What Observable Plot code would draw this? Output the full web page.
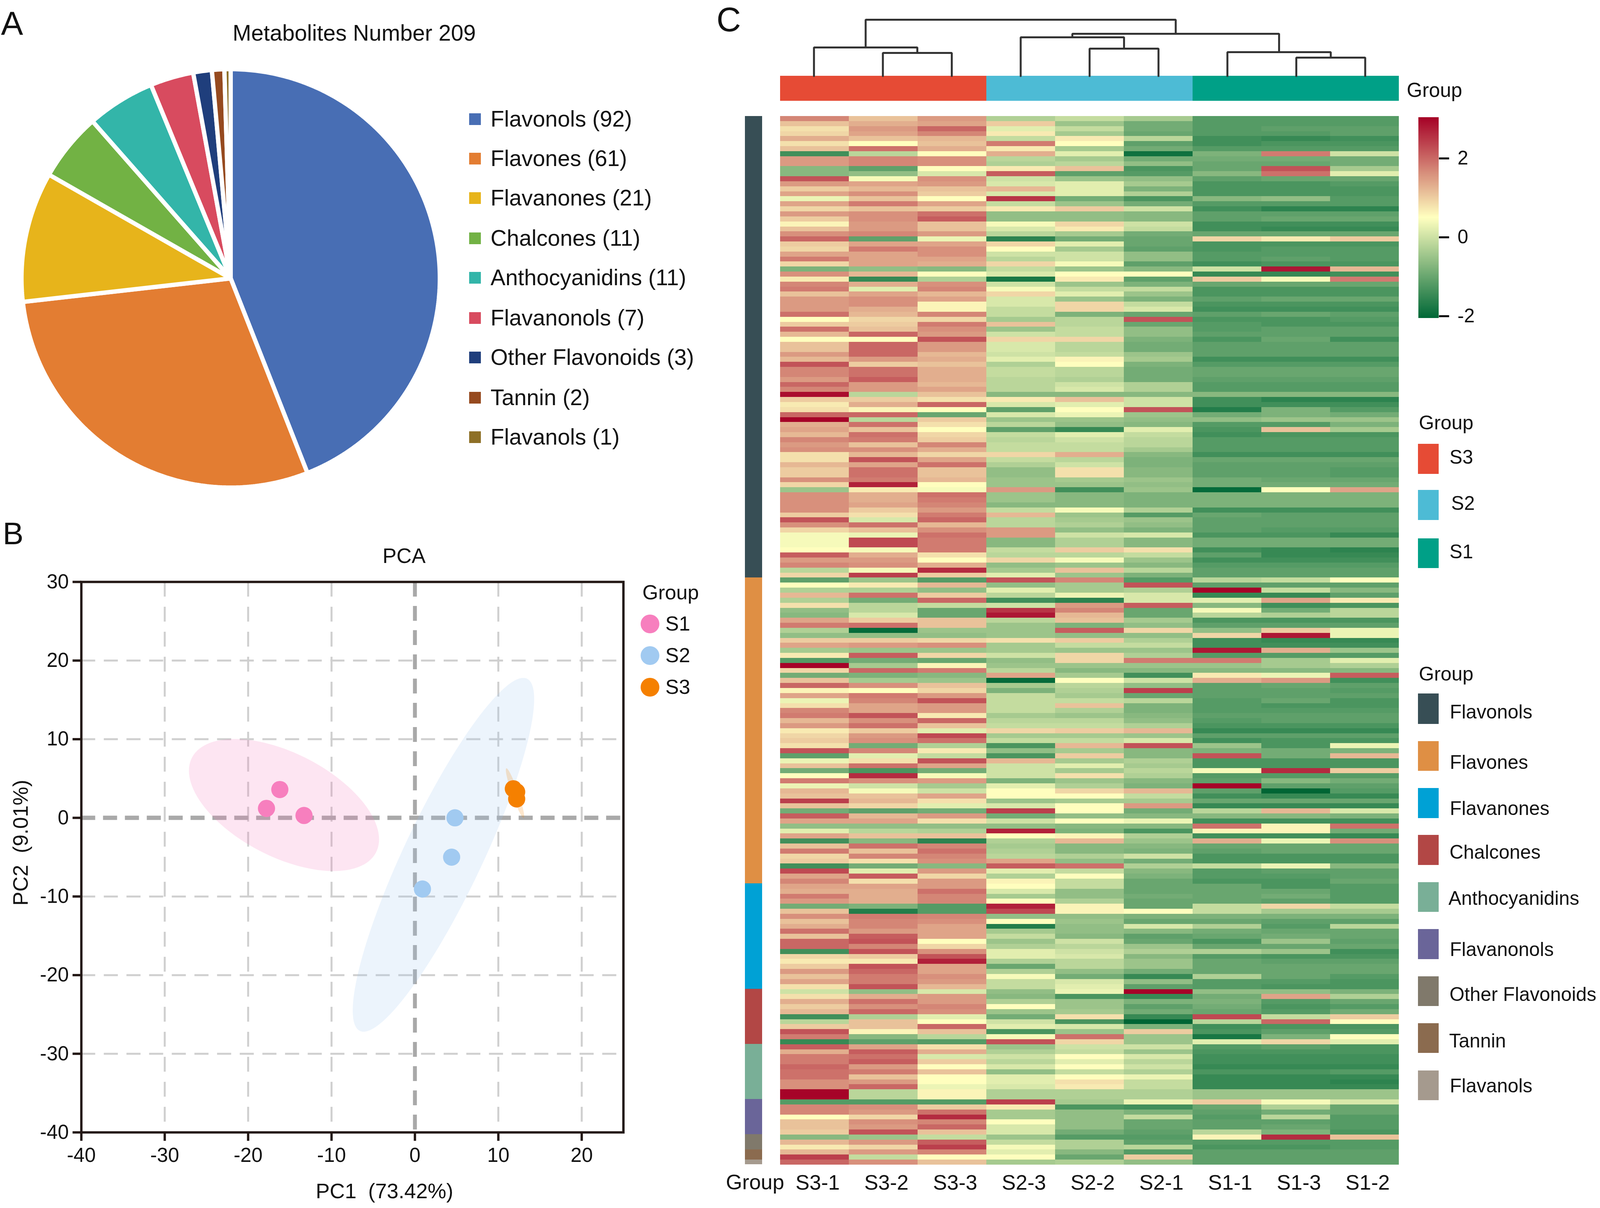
<!DOCTYPE html>
<html>
<head>
<meta charset="utf-8">
<script src="https://cdn.jsdelivr.net/npm/d3@7"></script>
<script src="https://cdn.jsdelivr.net/npm/@observablehq/plot@0.6"></script>
<style>
html,body{margin:0;padding:0;background:#fff;overflow:hidden}
#page{position:relative;width:100vw;height:3092px;font-family:"Liberation Sans",Arial,sans-serif;color:#111;background:#fff}
#page svg{position:absolute;max-width:none;background:transparent}
.t{position:absolute;white-space:pre;line-height:1}
.s{position:absolute}
</style>
</head>
<body>
<div id="page"></div>
<script>
// ---------- Panel A: composition ----------
const classNames = ["Flavonols","Flavones","Flavanones","Chalcones","Anthocyanidins","Flavanonols","Other Flavonoids","Tannin","Flavanols"];
const classCounts = [92,61,21,11,11,7,3,2,1];
const pieColors = ["#486EB4","#E37D32","#E7B41B","#72B244","#33B5A9","#D84B5F","#1F3E7C","#964A1F","#8E7027"];

// ---------- Panel B: PCA ----------
const pcaGroups = ["S1","S2","S3"];
const pcaColors = ["#F77FBE","#A1CAF1","#F58000"];
const pcaS1 = [[-16.2,3.6],[-17.8,1.2],[-13.3,0.3]];
const pcaS2 = [[4.8,0.0],[4.4,-5.0],[0.9,-9.05]];
const pcaS3 = [[11.8,3.7],[12.2,3.3],[12.2,2.4]];
// ellipse: centre x, centre y, half width, half height, tilt correlation
const ellipseS1 = [-15.7,1.63,11.4,8.4,-0.52];
const ellipseS2 = [3.42,-4.7,10.88,22.5,0.88];
const ellipseS3 = [12.0,3.15,1.1,3.15,-0.93];
const pcaXTicks = [-40,-30,-20,-10,0,10,20];
const pcaYTicks = [-40,-30,-20,-10,0,10,20,30];

// ---------- Panel C: heatmap (z-scores) ----------
const samples = ["S3-1","S3-2","S3-3","S2-3","S2-2","S2-1","S1-1","S1-3","S1-2"];
const sampleGroupNames = ["S3","S2","S1"];
const sampleGroupColors = ["#E64B35","#4DBBD5","#00A087"];
const classColors = ["#374E55","#DF8F44","#00A1D5","#B24745","#79AF97","#6A6599","#80796B","#8B6B4F","#A59A8E"];

const rowsFlavonols = [
[1.7,1.1,1.5,-0.3,-0.1,-0.4,-1.2,-1.2,-1.2],
[1.1,1.3,1.4,1.0,-0.5,-0.9,-1.2,-1.2,-1.2],
[0.8,1.5,2.0,0.2,-0.1,-0.9,-1.2,-1.1,-1.1],
[0.9,1.4,1.7,0.7,-0.4,-1.0,-1.2,-1.2,-1.1],
[1.3,1.1,1.2,-0.1,0.7,-0.2,-1.4,-1.5,-1.4],
[0.8,0.5,1.1,1.8,0.5,-1.1,-1.4,-1.3,-1.3],
[1.1,1.9,1.3,0.7,-0.4,-0.9,-1.2,-1.2,-1.2],
[-1.4,-0.2,0.5,1.3,0.2,-1.9,-0.8,1.8,0.0],
[1.5,1.7,1.6,-0.2,-0.4,-0.9,-0.9,-0.9,-0.9],
[1.5,1.7,1.6,-0.3,-0.2,-0.6,-1.0,-1.0,-0.9],
[-0.7,-1.1,0.5,0.7,1.1,-1.3,-1.0,2.2,-0.4],
[-0.7,-0.6,0.1,2.1,-1.1,-1.2,-0.7,1.9,0.2],
[2.2,0.4,1.6,0.0,-0.5,-0.6,-1.1,-1.0,-1.0],
[1.5,1.4,1.5,0.1,0.2,-0.4,-1.3,-1.3,-1.2],
[1.0,1.2,1.1,1.2,0.2,-0.8,-1.3,-1.3,-1.3],
[1.4,1.6,1.0,0.1,0.2,-0.3,-1.3,-1.3,-1.3],
[0.3,1.1,0.5,2.5,-0.9,-1.3,-0.7,-0.6,-1.2],
[1.4,1.8,1.4,-0.1,-0.5,-0.9,-1.2,-1.2,-1.2],
[0.9,1.1,1.0,0.7,1.0,0.0,-1.4,-1.6,-1.6],
[1.5,1.6,1.9,-0.6,-0.6,-0.7,-1.1,-1.1,-1.1],
[1.0,1.6,2.1,-0.6,-0.6,-0.7,-1.1,-1.0,-1.0],
[0.6,1.5,1.1,0.4,0.9,0.0,-1.4,-1.4,-1.4],
[1.1,1.5,1.1,0.1,0.7,-0.1,-1.4,-1.5,-1.5],
[1.6,1.7,1.5,-0.2,-0.4,-0.9,-1.0,-1.0,-1.0],
[2.0,-1.1,0.3,-1.6,-0.9,-1.0,0.9,0.7,1.0],
[1.0,1.4,1.4,0.9,0.2,-1.0,-1.3,-1.3,-1.3],
[0.9,1.8,1.6,0.5,-0.4,-1.1,-1.3,-1.2,-1.2],
[1.4,1.4,1.6,0.0,0.0,-0.6,-1.2,-1.2,-1.2],
[1.8,1.4,1.4,-0.2,0.0,-0.6,-1.2,-1.1,-1.2],
[0.9,1.4,1.3,0.9,0.4,-1.1,-1.4,-1.3,-1.3],
[-0.8,-0.6,-0.7,-0.1,-0.5,-0.7,0.0,2.8,1.2],
[1.6,1.2,0.5,0.1,0.5,0.5,-1.5,-1.5,-1.4],
[0.7,-1.5,-0.3,-1.8,0.7,-1.1,1.0,0.4,1.8],
[1.7,1.3,1.6,0.0,-0.5,-0.8,-1.0,-1.0,-1.0],
[1.8,0.2,1.7,0.4,-0.1,-0.1,-1.3,-1.3,-1.3],
[1.1,1.4,1.2,0.9,0.2,-0.5,-1.3,-1.3,-1.3],
[1.5,1.6,1.4,0.1,-0.5,-0.8,-1.1,-1.0,-1.0],
[1.5,1.6,0.6,0.1,0.9,-0.1,-1.3,-1.3,-1.3],
[1.5,1.3,0.6,-0.1,0.9,0.1,-1.4,-1.4,-1.4],
[1.9,1.2,1.7,-0.1,-0.8,-1.0,-1.1,-1.0,-1.1],
[0.5,0.9,0.9,-0.4,-0.2,2.2,-1.3,-1.3,-1.2],
[1.0,1.0,1.8,1.1,-0.2,-1.0,-1.2,-1.3,-1.3],
[1.9,1.1,1.6,-0.5,-0.1,-0.6,-1.2,-1.1,-1.1],
[1.2,2.0,1.5,0.0,-0.1,-0.6,-1.1,-1.1,-1.1],
[0.5,0.5,2.2,0.9,0.9,-0.8,-1.3,-1.0,-1.4],
[1.1,2.0,1.5,0.1,-0.2,-0.9,-1.1,-1.1,-1.1],
[1.1,2.0,1.5,0.1,-0.2,-0.9,-1.1,-1.1,-1.1],
[1.5,2.0,1.2,0.0,-0.1,-0.5,-1.1,-1.1,-1.1],
[1.2,1.5,1.3,0.2,0.6,-0.4,-1.4,-1.4,-1.4],
[2.2,1.0,1.1,-0.3,0.5,-0.8,-1.2,-1.2,-1.2],
[1.7,1.9,1.3,-0.1,-0.2,-0.9,-1.0,-1.0,-1.0],
[1.7,1.9,1.3,-0.1,-0.2,-0.9,-1.0,-1.0,-1.0],
[1.5,2.1,1.3,-0.2,-0.3,-0.9,-1.1,-1.1,-1.1],
[2.0,1.5,1.2,-0.2,0.0,-0.3,-1.2,-1.2,-1.2],
[1.7,1.5,1.4,-0.2,0.1,-0.3,-1.2,-1.2,-1.2],
[2.9,-0.2,1.1,-0.7,-0.7,-0.7,-0.7,-0.7,-0.7],
[1.0,1.0,0.8,0.7,1.1,0.0,-1.4,-1.6,-1.6],
[0.7,1.3,2.0,0.1,0.2,0.0,-1.4,-1.4,-1.4],
[0.8,0.6,0.5,-1.1,0.5,2.2,-1.7,-0.8,-1.2],
[2.0,2.0,-1.0,0.1,0.3,-0.5,-0.9,-0.8,-0.9],
[3.0,-0.2,1.0,-0.5,-0.5,-0.6,-0.6,-0.5,-0.5],
[1.3,1.9,0.8,-0.2,-0.6,-0.7,-1.2,-1.2,-0.8],
[1.4,1.1,0.5,-1.1,-1.5,0.2,-1.3,1.1,-0.4],
[1.2,1.9,0.9,-0.1,0.2,-0.1,-1.4,-1.3,-1.3],
[1.7,1.8,1.0,-0.2,0.0,-0.2,-1.2,-1.2,-1.2],
[1.5,1.1,1.7,-0.1,-0.1,-0.2,-1.2,-1.2,-1.2],
[1.6,1.6,1.3,-0.1,-0.1,-0.4,-1.2,-1.2,-1.2],
[0.8,1.2,0.9,0.9,1.3,-0.7,-1.4,-1.4,-1.4],
[0.8,2.2,1.4,-0.1,-0.2,-0.8,-1.0,-1.0,-1.0],
[1.2,1.4,1.9,-0.3,0.0,-0.8,-1.1,-1.1,-1.1],
[1.0,1.9,1.1,-0.6,0.8,-0.7,-1.1,-1.1,-1.2],
[1.0,1.9,1.1,-0.6,0.8,-0.7,-1.1,-1.1,-1.2],
[1.6,1.8,1.2,-0.5,-0.4,-0.5,-0.9,-1.0,-1.0],
[0.9,2.7,0.5,-0.5,-0.5,-0.6,-0.9,-0.9,-0.9],
[-0.5,0.7,0.4,1.5,-1.4,-0.5,-2.0,0.5,1.4],
[1.6,1.3,1.9,-0.5,-0.7,-0.8,-0.8,-0.8,-0.8],
[1.6,1.3,1.8,-0.5,-0.7,-0.8,-0.8,-0.8,-0.8],
[1.6,1.4,1.7,-0.7,-0.7,-0.8,-0.8,-0.8,-0.8],
[1.6,1.0,1.5,-0.1,0.4,-0.3,-1.4,-1.4,-1.4],
[1.0,0.8,1.8,1.2,-0.5,-1.2,-1.0,-1.1,-1.1],
[2.2,0.1,2.0,-0.2,-0.4,-0.5,-1.1,-1.1,-1.1],
[1.6,1.9,1.2,-0.2,-0.3,-0.6,-1.1,-1.1,-1.1],
[0.9,1.1,1.6,1.5,-0.6,-0.8,-1.1,-1.2,-1.2],
[0.4,0.3,1.9,1.5,0.0,0.1,-1.3,-1.3,-1.5],
[0.4,2.3,1.8,-0.7,-0.3,-0.7,-0.9,-0.9,-0.9],
[0.4,2.3,1.8,-0.7,-0.3,-0.7,-0.9,-0.9,-0.9],
[0.5,0.4,1.8,-0.1,1.0,0.8,-1.4,-1.5,-1.6],
[2.1,1.3,0.8,-0.2,-0.2,-0.1,-1.1,-1.5,-1.5],
[1.5,1.5,0.5,0.9,0.4,-0.5,-1.4,-1.4,-1.4],
[1.7,1.6,1.3,-0.6,-0.5,-0.7,-1.2,-1.2,-1.2],
[-0.2,0.4,2.6,-0.4,1.1,-0.2,-1.1,-1.1,-1.1],
[0.9,2.4,1.0,0.2,-0.5,-0.8,-1.1,-1.1,-1.1]];

const rowsFlavones = [
[-1.1,-0.5,-1.2,2.2,1.7,-1.2,-0.2,-0.1,0.5],
[0.5,0.7,1.2,-0.6,-0.4,2.2,-1.1,-1.1,-1.1],
[-0.3,-0.3,-0.6,0.2,-0.4,-0.3,3.0,-0.1,-0.7],
[1.2,1.9,1.0,-0.2,0.3,0.1,-1.5,-1.5,-1.1],
[-0.3,-0.9,2.0,-1.4,-1.6,0.1,0.2,1.4,0.7],
[0.8,-0.2,-0.1,0.0,1.5,2.1,-0.7,-1.4,-1.3],
[-0.6,-0.2,-1.0,2.5,1.7,-1.0,0.4,-0.9,-0.2],
[-0.7,0.1,-1.0,2.8,1.2,-1.0,-0.2,-0.3,-0.2],
[1.4,1.0,1.1,-0.2,1.1,-0.4,-1.3,-1.3,-1.3],
[1.8,1.9,1.1,-0.5,-0.8,-0.6,-1.1,-1.1,-1.1],
[-0.3,-2.0,-0.5,-0.5,2.1,0.9,-0.6,1.0,0.3],
[-0.6,-0.6,-0.6,-0.5,-0.6,-0.6,0.9,2.8,0.3],
[1.0,1.0,0.9,0.8,1.0,-0.3,-1.4,-1.5,-1.5],
[1.4,1.5,1.6,-0.4,-0.1,-0.1,-1.4,-1.4,-1.4],
[-0.4,-0.5,-0.5,-0.4,-0.5,-0.5,2.8,1.3,-0.5],
[0.7,2.1,0.9,0.0,0.9,-0.3,-1.2,-1.2,-1.2],
[-1.2,-0.9,-1.0,-0.6,0.9,1.8,1.8,-0.4,0.2],
[3.0,-0.4,0.6,-0.5,-0.5,-0.5,-0.5,-0.4,-0.3],
[0.9,2.0,1.8,-0.2,-0.7,-0.7,-0.7,-0.7,-0.7],
[-0.9,-0.8,-0.7,1.4,-0.4,-1.4,0.7,0.3,2.1],
[1.1,-0.4,-0.5,-2.0,0.5,0.0,1.3,1.5,-1.4],
[2.0,1.6,1.1,-0.4,-0.2,-0.6,-1.1,-1.0,-1.1],
[0.6,0.5,0.9,-0.8,-0.3,2.4,-1.1,-1.1,-1.2],
[1.4,1.8,1.5,-0.1,-0.4,-1.0,-1.1,-1.1,-1.1],
[0.3,1.7,2.2,-0.1,-0.1,-0.2,-1.2,-1.0,-1.3],
[0.8,1.4,1.5,-0.1,1.1,-0.8,-1.2,-1.3,-1.3],
[1.7,1.4,1.5,-0.1,-0.3,-0.8,-1.2,-1.2,-1.2],
[1.8,2.2,0.7,-0.4,-0.5,-0.7,-1.1,-1.1,-1.1],
[1.2,1.6,2.0,-0.2,-0.2,-0.6,-1.2,-1.1,-1.1],
[1.5,1.9,1.1,-0.1,-0.1,-0.3,-1.3,-1.3,-1.3],
[0.7,1.0,0.2,0.9,1.0,1.2,-1.5,-1.5,-1.5],
[0.9,1.5,2.3,-0.4,-0.4,-0.5,-1.1,-1.1,-1.1],
[1.0,1.6,1.9,-0.1,-0.1,0.1,-1.4,-1.3,-1.3],
[0.8,-0.9,-0.3,-1.3,1.2,2.2,-0.5,-1.3,0.3],
[2.2,1.7,0.7,-0.6,-0.4,-0.7,-0.8,-0.9,-0.8],
[-1.1,0.2,-0.1,-1.3,1.0,-0.7,2.2,-0.9,1.2],
[0.3,0.8,2.2,1.2,-0.4,-0.3,-1.3,-1.3,-1.3],
[1.1,1.9,1.4,0.0,0.2,-0.4,-1.3,-1.3,-1.3],
[-0.9,-1.3,-0.9,0.0,-0.4,-0.2,0.4,2.6,1.0],
[0.5,2.6,0.4,0.0,0.8,-0.3,-1.2,-1.2,-1.2],
[1.8,1.6,1.5,-0.8,-0.5,-0.7,-1.1,-0.7,-0.9],
[0.3,0.0,-0.4,0.2,-0.3,-0.8,3.0,-1.1,-1.1],
[1.2,0.4,0.0,0.5,0.9,1.2,-1.1,-2.1,-1.2],
[1.1,1.1,1.4,0.5,0.5,-0.1,-1.4,-1.5,-1.5],
[2.4,1.2,0.8,-0.5,-0.4,-0.4,-1.0,-1.0,-1.0],
[1.1,0.9,0.2,0.1,0.5,1.5,-1.5,-1.5,-1.5],
[-0.9,-1.1,-0.9,2.4,0.5,-0.9,-0.2,1.2,0.1],
[2.1,1.2,1.5,-0.9,-0.6,-0.7,-0.7,-0.7,-0.8],
[1.4,1.4,0.8,0.0,0.5,0.3,-1.4,-1.4,-1.4],
[-0.6,-0.6,-0.6,-0.6,-0.7,-0.7,1.9,0.6,1.9],
[0.2,-0.2,-0.3,2.7,-0.8,-1.3,0.6,0.6,-0.9],
[1.4,1.1,1.1,0.5,0.6,-0.3,-1.4,-1.4,-1.5],
[-1.4,-0.7,-1.6,-0.3,1.2,-0.5,1.3,0.3,1.6],
[1.1,1.9,1.7,-0.4,-0.7,-0.7,-1.0,-1.0,-1.0],
[1.8,1.1,1.9,-0.3,-0.7,-0.8,-1.1,-1.0,-1.0],
[0.9,1.7,1.7,-0.2,-0.3,0.0,-1.3,-1.3,-1.3],
[1.0,0.8,1.6,1.4,-0.6,-0.9,-1.3,-1.3,-1.3],
[-1.4,-0.9,-0.7,2.1,1.9,-0.3,-0.1,0.3,-0.7],
[2.3,0.2,1.5,0.2,-0.1,-0.7,-1.2,-1.1,-1.1],
[1.4,2.1,0.9,-0.3,0.5,-0.8,-1.2,-1.2,-1.1],
[1.7,0.8,1.5,0.6,-0.1,-1.0,-1.3,-1.3,-1.0]];

const rowsFlavanones = [
[1.4,1.4,1.5,0.5,-0.1,-1.0,-1.0,-1.3,-1.2],
[1.3,1.3,1.9,0.1,-0.6,-1.0,-1.0,-1.0,-1.2],
[1.8,1.3,1.7,-0.4,-0.6,-0.9,-1.0,-0.9,-1.2],
[1.5,1.3,1.7,0.5,-0.3,-1.0,-1.0,-1.1,-1.2],
[-0.9,-0.8,-1.2,2.7,0.6,-1.0,-0.1,0.9,-0.1],
[1.1,-1.7,-1.2,2.3,0.6,0.5,-0.1,-0.4,-0.4],
[1.6,1.8,1.7,-0.6,-0.6,-0.8,-0.8,-0.8,-0.8],
[1.1,1.7,1.6,0.5,-0.5,-1.0,-1.0,-1.1,-1.1],
[1.3,1.7,1.4,-1.7,-0.6,0.1,-0.3,-1.2,-0.2],
[1.9,1.5,1.4,-0.4,-0.6,-0.7,-0.9,-1.0,-1.0],
[1.1,2.1,1.4,-0.1,-0.7,-1.1,-1.0,-0.9,-1.0],
[2.0,2.2,0.5,-0.5,0.0,-1.0,-1.3,-0.5,-1.1],
[2.0,1.7,0.9,-0.3,-0.2,-0.5,-1.0,-1.0,-1.0],
[-1.4,2.2,1.6,0.2,0.0,-0.3,-0.3,-0.5,-1.4],
[0.9,1.0,2.2,0.2,0.1,-0.7,-1.2,-1.3,-1.3],
[0.7,0.7,2.7,-0.3,-0.2,-0.5,-1.0,-1.1,-1.1],
[1.0,2.2,1.4,-1.0,-0.2,-0.5,-1.0,-1.0,-1.0],
[1.5,2.0,1.4,-0.3,-0.6,-0.9,-1.0,-1.0,-1.0],
[1.1,1.8,1.6,0.4,-0.9,-1.5,-0.3,-1.0,-1.2],
[1.4,1.8,1.5,-0.1,0.1,-0.6,-1.2,-1.2,-1.3],
[0.8,2.2,1.2,-0.1,0.2,-1.1,-1.2,-1.3,-1.3]];

const rowsChalcones = [
[0.0,-0.6,0.1,-0.6,0.3,3.0,-0.6,-0.6,-0.8],
[0.8,1.3,1.5,-0.7,-1.3,-1.5,-0.9,1.4,-0.3],
[1.3,1.9,1.5,-0.3,-0.5,-0.8,-0.8,-1.2,-1.0],
[1.0,1.6,1.7,0.5,-0.5,-1.1,-0.9,-1.3,-1.2],
[1.2,2.0,1.6,-0.5,-0.4,-0.9,-1.0,-1.2,-0.9],
[-1.4,-0.3,0.2,-0.9,0.8,-1.5,2.3,-0.1,1.0],
[-0.2,1.1,0.5,0.0,-1.3,-2.1,-0.2,2.0,0.5],
[1.0,1.1,2.0,0.2,0.1,-0.8,-1.4,-1.3,-1.3],
[2.2,0.6,1.1,-1.3,-0.5,1.0,-1.3,-1.1,-1.2],
[1.8,-0.7,-0.2,0.4,1.9,-0.5,-1.8,-0.8,0.5],
[-1.5,-1.1,-1.2,2.2,0.9,-0.5,0.2,0.9,0.2]];

const rowsAnthocyanidins = [
[2.1,1.4,0.8,-0.5,0.0,0.0,-1.2,-1.1,-1.3],
[1.3,2.1,1.3,-0.3,-0.1,-0.5,-1.3,-1.3,-1.3],
[1.8,1.9,0.1,0.0,0.5,0.1,-1.4,-1.4,-1.4],
[1.8,2.1,1.0,-0.2,0.2,-0.2,-1.4,-1.4,-1.4],
[2.0,1.5,0.5,0.1,0.5,0.0,-1.5,-1.5,-1.5],
[1.9,1.8,1.1,-0.6,-0.1,-0.3,-1.3,-1.3,-1.2],
[1.9,1.1,0.5,0.2,0.5,0.3,-1.5,-1.5,-1.5],
[1.6,1.5,0.5,0.2,0.8,-0.1,-1.5,-1.5,-1.6],
[1.6,2.0,0.3,0.1,0.7,-0.1,-1.5,-1.5,-1.5],
[3.0,-0.2,0.6,-0.3,-0.3,-0.3,-0.5,-0.5,-0.5],
[3.0,-0.2,0.6,-0.3,-0.3,-0.3,-0.5,-0.5,-0.5]];

const rowsFlavanonols = [
[-1.2,-1.2,-1.2,2.4,-0.4,0.3,1.0,0.4,0.1],
[1.7,1.6,1.0,0.7,-1.3,-1.4,-1.0,-0.3,-1.0],
[1.7,1.5,1.9,-0.4,-0.6,-0.8,-1.1,-0.9,-1.0],
[0.5,0.9,2.6,-0.4,-0.6,-0.1,-1.2,-0.2,-1.2],
[1.1,1.6,1.7,0.5,-0.6,-1.0,-1.1,-1.1,-1.2],
[1.1,1.5,2.0,0.1,-0.6,-1.0,-1.1,-1.0,-1.2],
[1.0,2.2,1.1,0.1,-0.9,-1.1,-0.2,-0.8,-1.3]];

const rowsOther = [
[-0.7,-0.5,-0.1,-0.5,-1.2,-1.2,0.6,2.6,1.1],
[1.2,1.5,2.1,-0.1,-0.3,-1.1,-1.2,-1.2,-1.2],
[0.7,0.9,2.4,0.4,-0.3,-0.2,-1.3,-1.3,-1.2]];

const rowsTannin = [
[1.2,1.5,1.7,0.2,-0.7,-1.2,-1.1,-1.1,-1.1],
[2.4,-0.1,0.5,0.5,-1.0,1.0,-1.1,-1.1,-1.1]];

const rowsFlavanols = [
[2.0,1.6,1.1,-0.4,-0.3,-0.6,-1.1,-1.1,-1.1]];

// dendrogram merges: left x, left height, right x, right height, merge height
const dendroMerges = [
[1.5,0,2.5,0,5.9],
[0.5,0,2.0,5.9,7.3],
[4.5,0,5.5,0,7.0],
[3.5,0,5.0,7.0,9.9],
[7.5,0,8.5,0,4.7],
[6.5,0,8.0,4.7,6.1],
[4.25,9.9,7.25,6.1,10.8],
[1.25,7.3,5.75,10.8,14.4]];

const heatDomain = [-2.05,0.49,3.03];
const heatRange = ["#006837","#FFFFBF","#A50026"];
const FONT = '"Liberation Sans", Arial, sans-serif';
const INK = "#111";

// The browser window is narrower than the reference (it tops out at 4096 wide), so the
// horizontal layout is fitted to the window width while the vertical layout is kept.
const XK = Math.min(1, window.innerWidth/4752);
const X = v => v*XK;
const F = v => v*XK*1.005;

const page = document.getElementById("page");
function place(svg,x,y){svg.style.left=x+"px";svg.style.top=y+"px";page.appendChild(svg);return svg;}
function label(text,x,y,size,anchor="start",rot=0,color=INK){
  const d=document.createElement("div");d.className="t";d.textContent=text;
  d.style.left=X(x)+"px";d.style.top=y+"px";d.style.fontSize=F(size)+"px";d.style.color=color;
  const tx=anchor==="middle"?"-50%":anchor==="end"?"-100%":"0";
  d.style.transform=`translate(${tx},-50%)`+(rot?` rotate(${rot}deg)`:"");
  page.appendChild(d);
}
function swatch(color,x,y,w,h,round=false){
  const d=document.createElement("div");d.className="s";
  d.style.cssText+=`left:${x}px;top:${y}px;width:${w}px;height:${h}px;background:${color};`+(round?"border-radius:50%;":"");
  page.appendChild(d);
}
const baseStyle={fontFamily:FONT,overflow:"visible",background:"transparent",color:INK};

// ---------- Pie ----------
const total=d3.sum(classCounts);
let cum=0;
const pieData=[];
classNames.forEach((name,i)=>{
  const a0=cum/total*2*Math.PI; cum+=classCounts[i];
  const a1=cum/total*2*Math.PI;
  pieData.push({name,px:0,py:0});
  const n=Math.max(2,Math.ceil((a1-a0)/0.01));
  for(let k=0;k<=n;k++){const a=a0+(a1-a0)*k/n;pieData.push({name,px:Math.sin(a),py:Math.cos(a)});}
  pieData.push({name,px:0,py:0});
});
// the pie stays a true circle: 1071 px across with its stroke, centred at (590,712)
place(Plot.plot({
  width:1200,height:1300,marginLeft:54.5,marginRight:74.5,marginTop:176.5,marginBottom:52.5,
  style:baseStyle,
  x:{domain:[-1,1],axis:null},y:{domain:[-1,1],axis:null},
  color:{domain:classNames,range:pieColors},
  marks:[Plot.line(pieData,{x:"px",y:"py",z:"name",fill:"name",stroke:"#fff",strokeWidth:11,strokeLinejoin:"miter",curve:"linear"})]
}),0,0);
label("A",3,60,98);
label("Metabolites Number 209",1052,85,66,"middle");
const pieLegendY=[305,406,507,610,711,814,915,1018,1119];
classNames.forEach((n,i)=>{
  swatch(pieColors[i],X(1393),pieLegendY[i]-15,30,30);
  label(`${n} (${classCounts[i]})`,1457,pieLegendY[i],66);
});

// ---------- PCA ----------
function ellipsePts(e,group){
  const [cx,cy,ax,ay,r]=e,pts=[];
  for(let k=0;k<=120;k++){const t=k/120*2*Math.PI;
    pts.push({group,px:cx+ax*Math.cos(t),py:cy+ay*(r*Math.cos(t)+Math.sqrt(1-r*r)*Math.sin(t))});}
  return pts;
}
const ellipses=[...ellipsePts(ellipseS1,"S1"),...ellipsePts(ellipseS2,"S2"),...ellipsePts(ellipseS3,"S3")];
const toPts=(a,group)=>a.map(([px,py])=>({group,px,py}));
const pcaPts=[...toPts(pcaS1,"S1"),...toPts(pcaS2,"S2"),...toPts(pcaS3,"S3")];
const gridX=pcaXTicks.filter(d=>d!==-40&&d!==0);
const gridY=pcaYTicks.filter(d=>d!==-40&&d!==30&&d!==0);
const tickOpts={tickFormat:d=>String(d),fontSize:F(59),label:null,stroke:"#231815",strokeWidth:6,fill:INK};
place(Plot.plot({
  width:X(2150),height:1692,marginLeft:X(241),marginRight:X(299),marginTop:89,marginBottom:194,
  style:baseStyle,
  x:{domain:[-40,25]},y:{domain:[-40,30]},
  color:{domain:pcaGroups,range:pcaColors},
  marks:[
    Plot.ruleX(gridX,{stroke:"#cfcfcf",strokeWidth:5,strokeDasharray:"38 26"}),
    Plot.ruleY(gridY,{stroke:"#cfcfcf",strokeWidth:5,strokeDasharray:"36 22"}),
    Plot.ruleX([0],{stroke:"#a9a9a9",strokeWidth:10,strokeDasharray:"38 24"}),
    Plot.ruleY([0],{stroke:"#a9a9a9",strokeWidth:11,strokeDasharray:"36 20"}),
    Plot.line(ellipses,{x:"px",y:"py",z:"group",fill:"group",fillOpacity:0.2,stroke:"none",curve:"linear"}),
    Plot.dot(pcaPts,{x:"px",y:"py",fill:"group",r:22}),
    Plot.frame({stroke:"#231815",strokeWidth:6}),
    Plot.axisX({...tickOpts,ticks:pcaXTicks,tickSize:22,tickPadding:17,anchor:"bottom"}),
    Plot.axisY({...tickOpts,ticks:pcaYTicks,tickSize:22,tickPadding:10,anchor:"left"})
  ]
}),0,1400);
label("B",8,1366,92);
label("PCA",1200,1423,62,"middle");
label("PC1  (73.42%)",1142,3049,62,"middle");
label("PC2  (9.01%)",62,2157,62,"middle",-90);
label("Group",1908,1517,60);
[1597,1678,1759].forEach((y,i)=>{swatch(pcaColors[i],X(1930)-24,y-24,48,48,true);label(pcaGroups[i],1976,y,60);});

// ---------- Heatmap ----------
const allRows=[rowsFlavonols,rowsFlavones,rowsFlavanones,rowsChalcones,rowsAnthocyanidins,rowsFlavanonols,rowsOther,rowsTannin,rowsFlavanols];
const cells=[],rowClass=[];
let rowIndex=0;
allRows.forEach((rows,c)=>rows.forEach(r=>{
  r.forEach((v,j)=>cells.push({row:rowIndex,sample:samples[j],v}));
  rowClass.push({row:rowIndex,cls:classNames[c],col:"Group"});
  rowIndex++;
}));
const rowDomain=d3.range(rowIndex);
const heatColor={type:"linear",domain:heatDomain,range:heatRange,interpolate:"rgb"};
place(Plot.plot({
  width:X(1842),height:2784,marginLeft:0,marginRight:0,marginTop:0,marginBottom:100,
  style:baseStyle,
  x:{domain:samples,padding:0,axis:null},
  y:{domain:rowDomain,padding:0,axis:null},
  color:heatColor,
  marks:[
    Plot.cell(cells,{x:"sample",y:"row",fill:"v",inset:0,shapeRendering:"crispEdges"}),
    Plot.axisX({anchor:"bottom",tickSize:0,tickPadding:25,fontSize:F(62),dx:X(9),label:null,fill:INK})
  ]
}),X(2314),297);
place(Plot.plot({
  width:X(52),height:2784,marginLeft:0,marginRight:0,marginTop:0,marginBottom:100,
  style:baseStyle,
  x:{domain:["Group"],padding:0,axis:null},
  y:{domain:rowDomain,padding:0,axis:null},
  color:{domain:classNames,range:classColors},
  marks:[
    Plot.cell(rowClass,{x:"col",y:"row",fill:"cls",inset:0,shapeRendering:"crispEdges"}),
    Plot.axisX({anchor:"bottom",tickSize:0,tickPadding:25,fontSize:F(62),dx:X(4),label:null,fill:INK})
  ]
}),X(2212),297);
// top group bar
const groupOfSample=s=>s.slice(0,2);
place(Plot.plot({
  width:X(1842),height:64,margin:0,style:baseStyle,
  x:{domain:samples,padding:0,axis:null},y:{axis:null},
  color:{domain:sampleGroupNames,range:sampleGroupColors},
  marks:[Plot.cell(samples,{x:d=>d,fill:groupOfSample,inset:0,shapeRendering:"crispEdges"})]
}),X(2314),194);
// dendrogram
const dendroPts=[];
dendroMerges.forEach(([lx,lh,rx,rh,h],id)=>{
  dendroPts.push({id,px:lx,py:lh},{id,px:lx,py:h},{id,px:rx,py:h},{id,px:rx,py:rh});
});
place(Plot.plot({
  width:X(1842),height:194,margin:0,style:baseStyle,
  x:{domain:[0,9],axis:null},y:{domain:[0,19.4],axis:null},
  marks:[Plot.line(dendroPts,{x:"px",y:"py",z:"id",stroke:"#333",strokeWidth:5,strokeLinejoin:"miter",curve:"linear"})]
}),X(2314),0);
label("C",2128,50,100);
label("Group",4178,231,59);

// colour bar
const rampStep=0.02;
const ramp=d3.range(heatDomain[0],heatDomain[2],rampStep);
place(Plot.plot({
  width:X(60),height:513,margin:0,style:baseStyle,
  x:{domain:[0,1],axis:null},y:{domain:[-2.01,3.07],axis:null},
  color:heatColor,
  marks:[
    Plot.rect(ramp,{x1:0,x2:1,y1:d=>d,y2:d=>d+rampStep+0.01,fill:d=>d,shapeRendering:"crispEdges"}),
    Plot.axisY({anchor:"right",ticks:[-2,0,2],tickFormat:d=>String(d),tickSize:26,tickPadding:22,fontSize:F(57),strokeWidth:5,stroke:"#000",fill:INK,label:null})
  ]
}),X(4212),297);

// legends
label("Group",4214,1082,58);
const groupLegendY=[[1136,1213,1170,4305],[1254,1331,1288,4310],[1378,1454,1412,4305]];
sampleGroupNames.forEach((n,i)=>{
  const [t,b,c,x]=groupLegendY[i];
  swatch(sampleGroupColors[i],X(4211),t,X(62),b-t);label(n,x,c,57);
});
label("Group",4214,1725,58);
const classLegendY=[[1775,1853,1822,4306],[1897,1973,1951,4306],[2017,2094,2069,4306],[2137,2214,2181,4305],[2258,2334,2299,4302],[2378,2455,2430,4306],[2499,2575,2545,4305],[2619,2695,2664,4304],[2740,2816,2779,4306]];
classNames.forEach((n,i)=>{
  const [t,b,c,x]=classLegendY[i];
  swatch(classColors[i],X(4211),t,X(62),b-t);label(n,x,c,57);
});
</script>
</body>
</html>
